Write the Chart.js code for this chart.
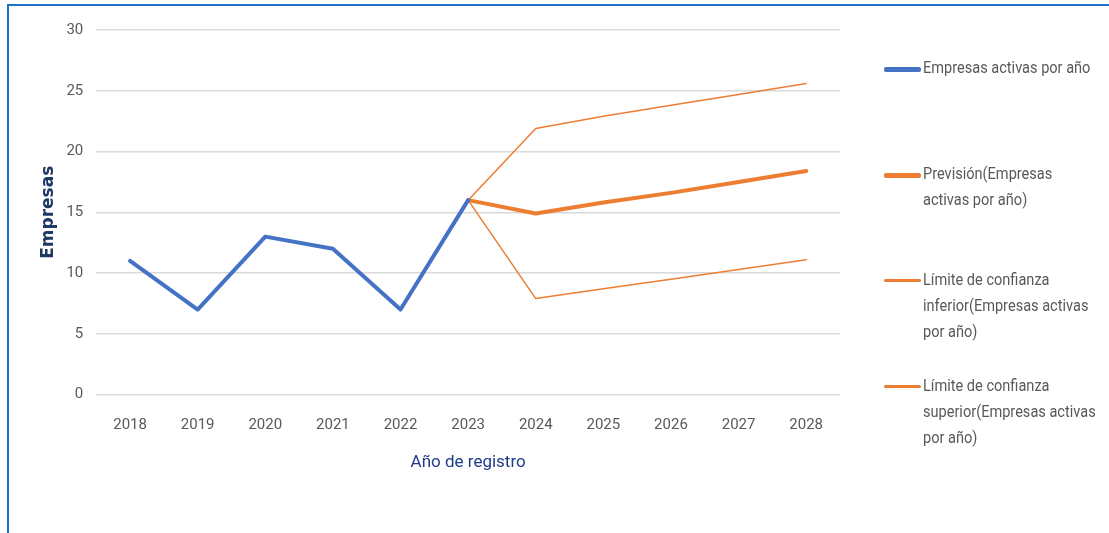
<!DOCTYPE html>
<html>
<head>
<meta charset="utf-8">
<script src="https://cdn.jsdelivr.net/npm/chart.js@4"></script>
<style>
  body { margin: 0; background: #fff; }
  #wrap { position: relative; width: 1109px; height: 533px; overflow: hidden; }
  #frame { position: absolute; left: 7px; top: 4px; right: -10px; bottom: -10px;
           border-top: 2px solid #1b72c4; border-left: 2px solid #1b72c4; pointer-events: none; }
  #legend { position: absolute; left: 884px; top: 0; width: 225px;
            font-family: "Roboto", sans-serif; font-size: 16px; color: #595959; }
  .item { position: absolute; left: 0; display: flex; align-items: flex-start; }
  .swatch { width: 37px; margin-top: 12px; border-radius: 2px; flex: none; }
  .txt { width: 192px; line-height: 26px; margin-left: 2px; transform: scaleX(0.91); transform-origin: left top; }
</style>
</head>
<body>
<div id="wrap">
  <canvas id="myChart" width="1109" height="533"></canvas>
  <div id="legend"></div>
  <div id="frame"></div>
</div>
<script>
// data
const years = ["2018","2019","2020","2021","2022","2023","2024","2025","2026","2027","2028"];
const empresas = [11, 7, 13, 12, 7, 16, null, null, null, null, null];
const prevision = [null, null, null, null, null, 16, 14.9, 15.8, 16.6, 17.5, 18.4];
const limiteInf = [null, null, null, null, null, 16, 7.9, 8.7, 9.5, 10.3, 11.1];
const limiteSup = [null, null, null, null, null, 16, 21.9, 22.9, 23.8, 24.7, 25.6];
const labels = ["Empresas activas por año", "Previsión(Empresas activas por año)",
  "Límite de confianza inferior(Empresas activas por año)", "Límite de confianza superior(Empresas activas por año)"];

const blue = "#4472C4", orange = "#ED7D31";
const tickFont = { family: "Roboto, sans-serif", size: 15 };

let ctx = document.getElementById("myChart").getContext("2d");
let chart = new Chart(ctx, {
    type: 'line',
    data: {
        labels: years,
        datasets: [
            { label: labels[0], data: empresas, borderColor: blue, borderWidth: 4 },
            { label: labels[1], data: prevision, borderColor: orange, borderWidth: 4 },
            { label: labels[2], data: limiteInf, borderColor: orange, borderWidth: 1.5 },
            { label: labels[3], data: limiteSup, borderColor: orange, borderWidth: 1.5 }
        ]
    },
    options: {
        responsive: false,
        animation: false,
        events: [],
        layout: { padding: { left: 38, right: 269, top: 30, bottom: 56 } },
        elements: {
            point: { radius: 0 },
            line: { tension: 0, borderCapStyle: 'round', borderJoinStyle: 'round' }
        },
        plugins: { legend: { display: false }, tooltip: { enabled: false } },
        scales: {
            x: {
                offset: true,
                grid: { display: false },
                border: { display: false },
                ticks: { color: "#595959", font: tickFont, padding: 14 },
                title: { display: true, text: "Año de registro", color: "#1F3C88",
                         font: { family: "Roboto, sans-serif", size: 17 }, padding: { top: 4 } }
            },
            y: {
                min: 0, max: 30,
                ticks: { stepSize: 5, color: "#595959", font: tickFont, padding: 13 },
                grid: { color: "#d9d9d9", lineWidth: 1.5, drawTicks: false },
                border: { display: false },
                title: { display: true, text: "Empresas", color: "#203864",
                         font: { family: "DejaVu Sans, sans-serif", size: 17, weight: 'bold' }, padding: { top: 0, bottom: -5 } }
            }
        }
    }
});

// legend drawn beside the chart, same order as the datasets
let legend = document.getElementById("legend");
chart.data.datasets.forEach(function (ds, i) {
    let item = document.createElement("div");
    item.className = "item";
    item.style.top = (55 + i * 106) + "px";
    let sw = document.createElement("div");
    sw.className = "swatch";
    sw.style.background = ds.borderColor;
    sw.style.height = (ds.borderWidth > 2 ? 5 : 2.5) + "px";
    let t = document.createElement("div");
    t.className = "txt";
    t.textContent = ds.label;
    item.appendChild(sw);
    item.appendChild(t);
    legend.appendChild(item);
});
</script>
</body>
</html>
